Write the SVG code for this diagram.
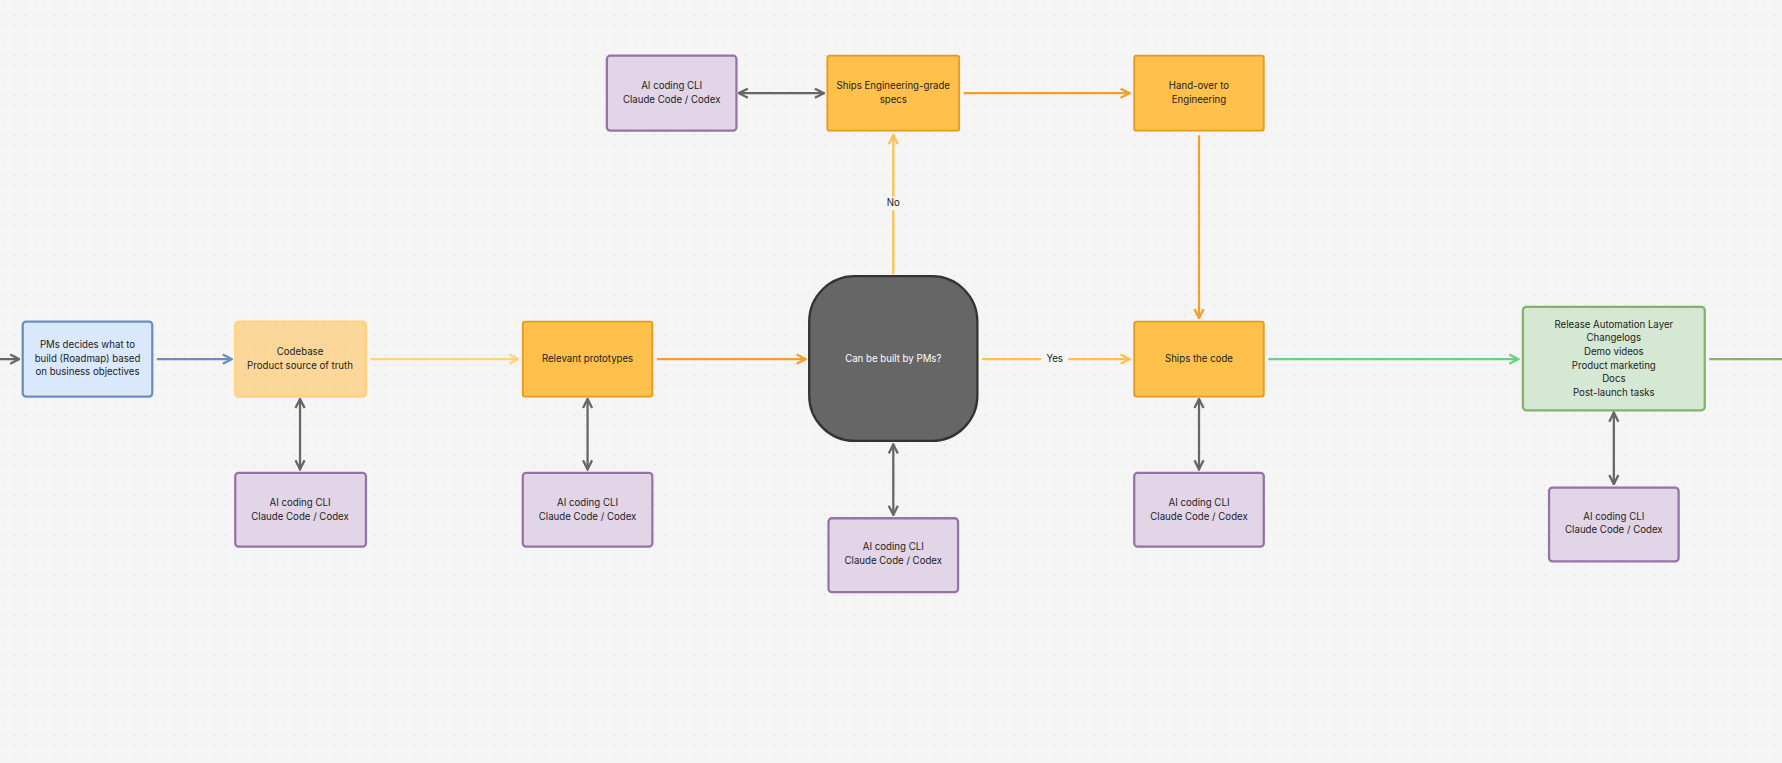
<svg xmlns="http://www.w3.org/2000/svg" width="1782" height="763" viewBox="0 0 1782 763">
<defs>
<pattern id="dots" width="10" height="10" patternUnits="userSpaceOnUse"><circle cx="5" cy="5" r="0.6" fill="#c4c4c4"/></pattern>
<marker id="ag" viewBox="0 0 10 10" refX="9" refY="5" markerWidth="10" markerHeight="10" orient="auto-start-reverse" markerUnits="userSpaceOnUse"><path d="M1,1 L9,5 L1,9" fill="none" stroke="#666" stroke-width="2"/></marker>
<marker id="ab" viewBox="0 0 10 10" refX="9" refY="5" markerWidth="10" markerHeight="10" orient="auto" markerUnits="userSpaceOnUse"><path d="M1,1 L9,5 L1,9" fill="none" stroke="#6c8ebf" stroke-width="2"/></marker>
<marker id="alo" viewBox="0 0 10 10" refX="9" refY="5" markerWidth="10" markerHeight="10" orient="auto" markerUnits="userSpaceOnUse"><path d="M1,1 L9,5 L1,9" fill="none" stroke="#ffd27f" stroke-width="2"/></marker>
<marker id="ao" viewBox="0 0 10 10" refX="9" refY="5" markerWidth="10" markerHeight="10" orient="auto" markerUnits="userSpaceOnUse"><path d="M1,1 L9,5 L1,9" fill="none" stroke="#f0a030" stroke-width="2"/></marker>
<marker id="ay" viewBox="0 0 10 10" refX="9" refY="5" markerWidth="10" markerHeight="10" orient="auto" markerUnits="userSpaceOnUse"><path d="M1,1 L9,5 L1,9" fill="none" stroke="#ffc04c" stroke-width="2"/></marker>
<marker id="agr" viewBox="0 0 10 10" refX="9" refY="5" markerWidth="10" markerHeight="10" orient="auto" markerUnits="userSpaceOnUse"><path d="M1,1 L9,5 L1,9" fill="none" stroke="#6ed07e" stroke-width="2"/></marker>
</defs>
<style>
text{font-family:Inter,"Liberation Sans",sans-serif;font-size:8.5px;fill:#222;text-anchor:middle;dominant-baseline:middle}
.ai rect{fill:#e1d5e7;stroke:#9673a6;stroke-width:2}
.or rect{fill:#ffc04c;stroke:#e69a20;stroke-width:1.6}
.c{fill:none;stroke-width:2}
</style>
<rect width="1782" height="763" fill="#f5f5f5"/>
<rect width="1782" height="763" fill="url(#dots)"/>
<g transform="scale(1.1365)">
<g id="connectors">
<line class="c" x1="0" y1="316" x2="17" y2="316" stroke="#666" marker-end="url(#ag)"/>
<line class="c" x1="138" y1="316" x2="204" y2="316" stroke="#6c8ebf" marker-end="url(#ab)"/>
<line class="c" x1="326" y1="316" x2="456" y2="316" stroke="#ffd27f" marker-end="url(#alo)"/>
<line class="c" x1="578" y1="316" x2="709" y2="316" stroke="#f0a030" marker-end="url(#ao)"/>
<line class="c" x1="864" y1="316" x2="994" y2="316" stroke="#ffc04c" marker-end="url(#ay)"/>
<rect x="916" y="310" width="24" height="12" fill="#f5f5f5"/><text x="928" y="316">Yes</text>
<line class="c" x1="1116" y1="316" x2="1336" y2="316" stroke="#6ed07e" marker-end="url(#agr)"/>
<line class="c" x1="1504" y1="316" x2="1570" y2="316" stroke="#82b366"/>
<line class="c" x1="786" y1="241" x2="786" y2="119" stroke="#ffc04c" marker-end="url(#ay)"/>
<rect x="776" y="173" width="20" height="12" fill="#f5f5f5"/><text x="786" y="179">No</text>
<line class="c" x1="848" y1="82" x2="994" y2="82" stroke="#f0a030" marker-end="url(#ao)"/>
<line class="c" x1="1055" y1="119" x2="1055" y2="280" stroke="#f0a030" marker-end="url(#ao)"/>
<line class="c" x1="650" y1="82" x2="725" y2="82" stroke="#666" marker-start="url(#ag)" marker-end="url(#ag)"/>
<line class="c" x1="264" y1="351" x2="264" y2="413" stroke="#666" marker-start="url(#ag)" marker-end="url(#ag)"/>
<line class="c" x1="517" y1="351" x2="517" y2="413" stroke="#666" marker-start="url(#ag)" marker-end="url(#ag)"/>
<line class="c" x1="786" y1="391" x2="786" y2="453" stroke="#666" marker-start="url(#ag)" marker-end="url(#ag)"/>
<line class="c" x1="1055" y1="351" x2="1055" y2="413" stroke="#666" marker-start="url(#ag)" marker-end="url(#ag)"/>
<line class="c" x1="1420" y1="363" x2="1420" y2="426" stroke="#666" marker-start="url(#ag)" marker-end="url(#ag)"/>
</g>
<g id="pm"><rect x="20" y="283" width="114" height="66" rx="3" fill="#dae8fc" stroke="#6c8ebf" stroke-width="2"/><text x="77" y="304">PMs decides what to</text><text x="77" y="316">build (Roadmap) based</text><text x="77" y="328">on business objectives</text></g>
<g id="codebase"><rect x="207" y="283" width="115" height="66" rx="3" fill="#ffc04c" fill-opacity="0.55" stroke="#ffd27f" stroke-width="2"/><text x="264" y="310">Codebase</text><text x="264" y="322">Product source of truth</text></g>
<g id="prototypes" class="or"><rect x="460" y="283" width="114" height="66" rx="2"/><text x="517" y="316">Relevant prototypes</text></g>
<g id="decision"><rect x="712" y="243" width="148" height="145" rx="40" fill="#666" stroke="#333" stroke-width="2"/><text x="786" y="316" style="fill:#fff">Can be built by PMs?</text></g>
<g id="specs" class="or"><rect x="728" y="49" width="116" height="66" rx="2"/><text x="786" y="76">Ships Engineering-grade</text><text x="786" y="88">specs</text></g>
<g id="handover" class="or"><rect x="998" y="49" width="114" height="66" rx="2"/><text x="1055" y="76">Hand-over to</text><text x="1055" y="88">Engineering</text></g>
<g id="ships" class="or"><rect x="998" y="283" width="114" height="66" rx="2"/><text x="1055" y="316">Ships the code</text></g>
<g id="release"><rect x="1340" y="270" width="160" height="91" rx="3" fill="#d5e8d4" stroke="#82b366" stroke-width="2"/><text x="1420" y="286">Release Automation Layer</text><text x="1420" y="298">Changelogs</text><text x="1420" y="310">Demo videos</text><text x="1420" y="322">Product marketing</text><text x="1420" y="334">Docs</text><text x="1420" y="346">Post-launch tasks</text></g>
<g id="ai-top" class="ai"><rect x="534" y="49" width="114" height="66" rx="3"/><text x="591" y="76">AI coding CLI</text><text x="591" y="88">Claude Code / Codex</text></g>
<g id="ai-1" class="ai"><rect x="207" y="416" width="115" height="65" rx="3"/><text x="264" y="443">AI coding CLI</text><text x="264" y="455">Claude Code / Codex</text></g>
<g id="ai-2" class="ai"><rect x="460" y="416" width="114" height="65" rx="3"/><text x="517" y="443">AI coding CLI</text><text x="517" y="455">Claude Code / Codex</text></g>
<g id="ai-3" class="ai"><rect x="729" y="456" width="114" height="65" rx="3"/><text x="786" y="482">AI coding CLI</text><text x="786" y="494">Claude Code / Codex</text></g>
<g id="ai-4" class="ai"><rect x="998" y="416" width="114" height="65" rx="3"/><text x="1055" y="443">AI coding CLI</text><text x="1055" y="455">Claude Code / Codex</text></g>
<g id="ai-5" class="ai"><rect x="1363" y="429" width="114" height="65" rx="3"/><text x="1420" y="455">AI coding CLI</text><text x="1420" y="467">Claude Code / Codex</text></g>
</g>
</svg>
